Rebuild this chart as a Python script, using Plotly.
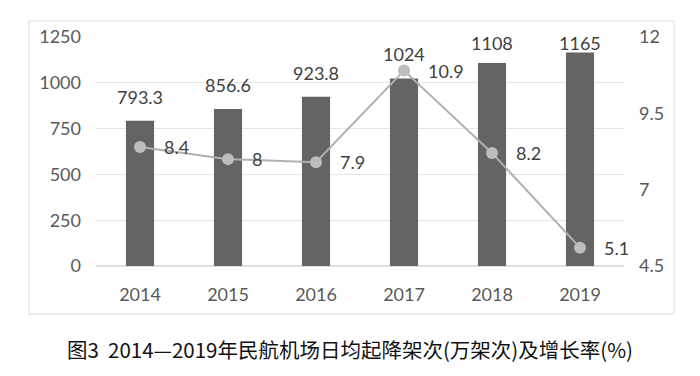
import plotly.graph_objects as go

years = ["2014", "2015", "2016", "2017", "2018", "2019"]
flights = [793.3, 856.6, 923.8, 1024, 1108, 1165]
growth = [8.4, 8.0, 7.9, 10.9, 8.2, 5.1]
flight_labels = ["793.3", "856.6", "923.8", "1024", "1108", "1165"]
growth_labels = ["8.4", "8", "7.9", "10.9", "8.2", "5.1"]
caption = "图3  2014—2019年民航机场日均起降架次(万架次)及增长率(%)"

FONT = "Lato, 'Liberation Sans', sans-serif"
TICK_COLOR = "#595959"
LABEL_COLOR = "#404040"

# plot area: x 96..624, y 37..266
L, R, T, B = 96, 76, 37, 110
W, H = 700, 376
pw, ph = W - L - R, H - T - B

def py(pix_y):
    return (H - B - pix_y) / ph

def px(pix_x):
    return (pix_x - L) / pw

xi = list(range(len(years)))

fig = go.Figure()
fig.add_trace(go.Bar(
    x=xi, y=flights, marker=dict(color="#646464", line=dict(width=0)),
    width=0.32, yaxis="y", hoverinfo="skip"))
fig.add_trace(go.Scatter(
    x=xi, y=growth, mode="lines+markers", yaxis="y2",
    line=dict(color="#b0b0b0", width=2),
    marker=dict(color="#bdbdbd", size=12), hoverinfo="skip"))

annotations = []
for i, v, t in zip(xi, flights, flight_labels):
    annotations.append(dict(
        x=i, y=min(v + 131, 1217), xref="x", yref="y", text=t, showarrow=False,
        xanchor="center", yanchor="middle",
        font=dict(family=FONT, size=18, color=LABEL_COLOR)))
for i, v, t in zip(xi, growth, growth_labels):
    annotations.append(dict(
        x=i, y=v, xref="x", yref="y2", text=t, showarrow=False,
        xanchor="left", yanchor="middle", xshift=22,
        font=dict(family=FONT, size=18, color=LABEL_COLOR)))
annotations.append(dict(
    x=px(350), y=py(349), xref="paper", yref="paper", text=caption,
    showarrow=False, xanchor="center", yanchor="middle",
    font=dict(family="Noto Sans CJK SC", size=20.5, color="#111111")))

fig.update_layout(
    width=W, height=H, margin=dict(l=L, r=R, t=T, b=B, autoexpand=False),
    paper_bgcolor="white", plot_bgcolor="white", showlegend=False,
    font=dict(family=FONT, size=18, color=TICK_COLOR),
    xaxis=dict(range=[-0.5, len(years) - 0.5], tickvals=xi, ticktext=years,
               showgrid=False, showline=False, zeroline=False, ticks="",
               ticklabelstandoff=16, tickfont=dict(size=18, color=TICK_COLOR)),
    yaxis=dict(range=[0, 1250], dtick=250, showgrid=True, gridcolor="#e6e6e6",
               gridwidth=1, zeroline=True, zerolinecolor="#e0e0e0", ticks="",
               ticklabelstandoff=14, tickfont=dict(size=18, color=TICK_COLOR)),
    yaxis2=dict(range=[4.5, 12], tickvals=[4.5, 7, 9.5, 12], overlaying="y",
                side="right", showgrid=False, zeroline=False, ticks="",
                ticklabelstandoff=14, tickfont=dict(size=18, color=TICK_COLOR)),
    annotations=annotations,
    shapes=[dict(type="rect", xref="paper", yref="paper",
                 x0=px(29), x1=px(674), y0=py(314), y1=py(21),
                 line=dict(color="#dcdcdc", width=1), layer="below")],
)
fig.write_html("out.html", config={"displayModeBar": False, "staticPlot": True},
               post_script="document.body.style.margin='0';document.body.style.overflow='hidden';")
